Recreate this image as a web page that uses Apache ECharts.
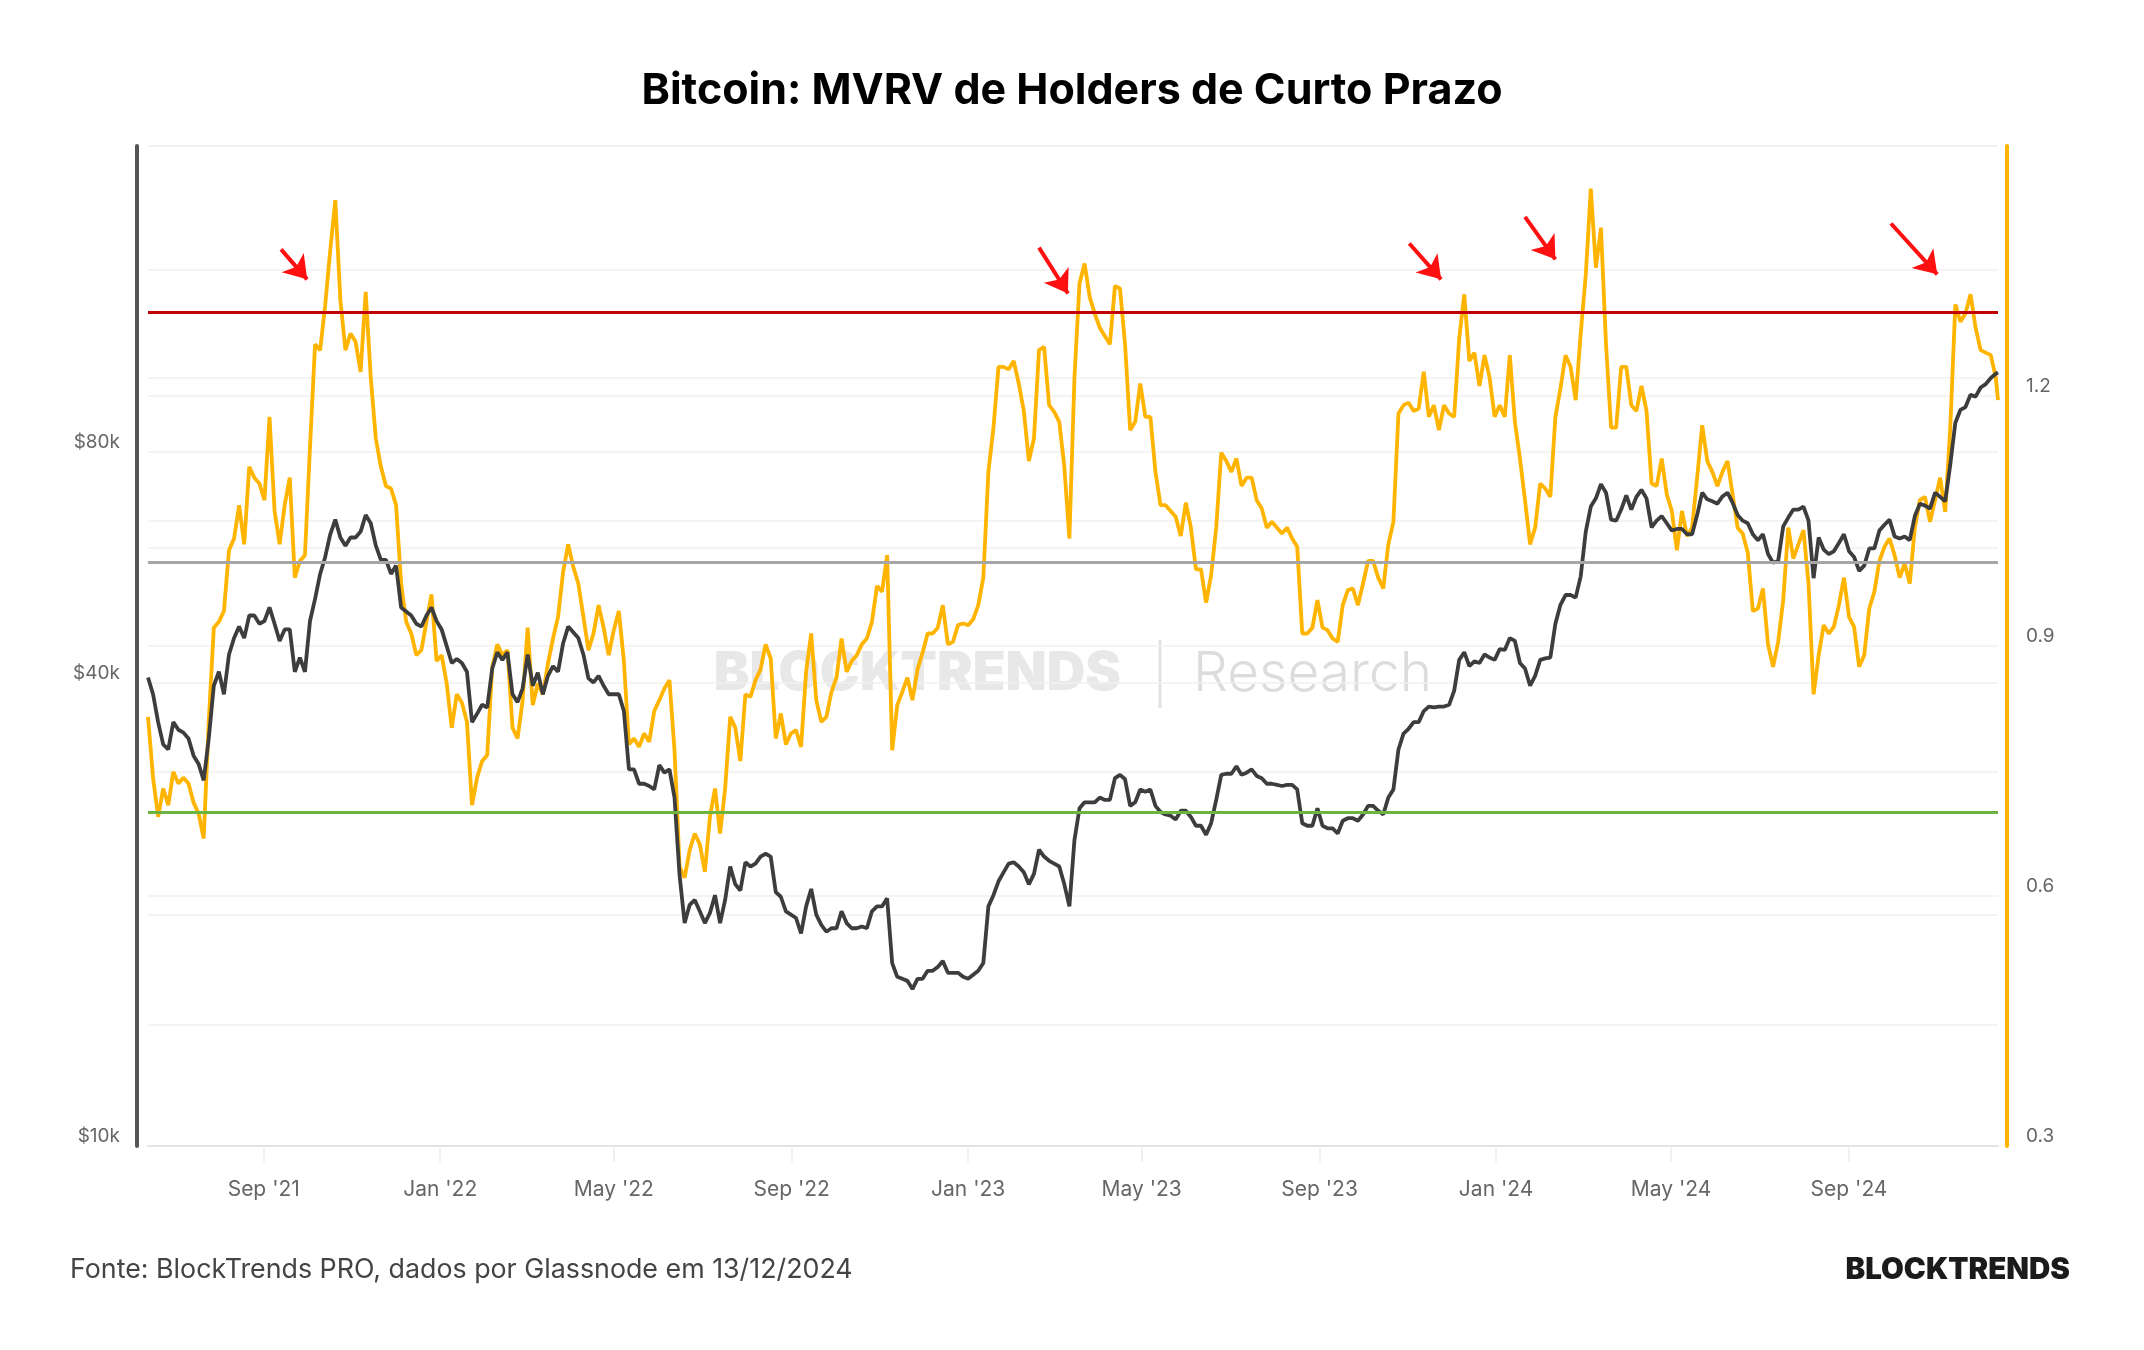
<!DOCTYPE html>
<html>
  <head>
    <meta charset="utf-8" />
    <title>Bitcoin: MVRV de Holders de Curto Prazo</title>
    <script src="https://cdn.jsdelivr.net/npm/echarts@6.0.0/dist/echarts.min.js"></script>
  </head>
  <body style="margin: 0; padding: 0; border: 0; background: #fff">
    <div id="main" style="width: 2144px; height: 1350px"></div>
    <script type="text/javascript">
      // samples every 3.5 days starting 13/06/2021, the last one is 13/12/2024
      var startDate = "2021-06-13";
      var endDate = "2024-12-13";
      var stepDays = 3.5;

      var xTicks = [
        "2021-09-01", "2022-01-01", "2022-05-01", "2022-09-01", "2023-01-01",
        "2023-05-01", "2023-09-01", "2024-01-01", "2024-05-01", "2024-09-01",
      ];

      // STH MVRV (right axis)
      var mvrv = [
        0.815, 0.742, 0.695, 0.729, 0.709, 0.749, 0.735, 0.742, 0.735, 0.712,
        0.699, 0.669, 0.809, 0.922, 0.929, 0.942, 1.015, 1.029, 1.069, 1.022,
        1.115, 1.102, 1.095, 1.075, 1.175, 1.062, 1.022, 1.069, 1.102, 0.982,
        1.002, 1.009, 1.139, 1.262, 1.255, 1.309, 1.375, 1.435, 1.315, 1.255,
        1.275, 1.265, 1.229, 1.325, 1.222, 1.149, 1.115, 1.092, 1.089, 1.069,
        0.975, 0.929, 0.915, 0.889, 0.895, 0.929, 0.962, 0.882, 0.889, 0.855,
        0.802, 0.842, 0.832, 0.809, 0.709, 0.742, 0.762, 0.769, 0.875, 0.902,
        0.889, 0.895, 0.802, 0.789, 0.835, 0.922, 0.829, 0.855, 0.842, 0.879,
        0.909, 0.935, 0.989, 1.022, 0.995, 0.975, 0.935, 0.895, 0.915, 0.949,
        0.922, 0.889, 0.919, 0.942, 0.882, 0.782, 0.789, 0.779, 0.795, 0.785,
        0.822, 0.835, 0.849, 0.859, 0.775, 0.635, 0.622, 0.655, 0.675, 0.662,
        0.629, 0.695, 0.729, 0.675, 0.729, 0.815, 0.802, 0.762, 0.842, 0.839,
        0.859, 0.872, 0.902, 0.885, 0.789, 0.819, 0.782, 0.795, 0.799, 0.779,
        0.869, 0.915, 0.835, 0.809, 0.815, 0.845, 0.862, 0.909, 0.869, 0.882,
        0.889, 0.902, 0.909, 0.929, 0.972, 0.965, 1.009, 0.775, 0.829, 0.845,
        0.862, 0.835, 0.872, 0.892, 0.915, 0.915, 0.922, 0.949, 0.902, 0.905,
        0.925, 0.927, 0.925, 0.932, 0.949, 0.982, 1.109, 1.162, 1.235, 1.235,
        1.232, 1.242, 1.215, 1.182, 1.122, 1.149, 1.255, 1.259, 1.189, 1.181,
        1.169, 1.115, 1.029, 1.222, 1.335, 1.359, 1.319, 1.299, 1.282, 1.272,
        1.262, 1.332, 1.329, 1.262, 1.159, 1.169, 1.215, 1.175, 1.175, 1.109,
        1.069, 1.069, 1.062, 1.055, 1.032, 1.072, 1.042, 0.992, 0.992, 0.952,
        0.985, 1.042, 1.132, 1.122, 1.109, 1.125, 1.092, 1.102, 1.102, 1.075,
        1.065, 1.042, 1.049, 1.042, 1.035, 1.042, 1.029, 1.019, 0.915, 0.915,
        0.922, 0.955, 0.922, 0.919, 0.909, 0.905, 0.949, 0.967, 0.969, 0.949,
        0.975, 1.002, 1.002, 0.982, 0.969, 1.022, 1.049, 1.179, 1.189, 1.192,
        1.182, 1.185, 1.229, 1.175, 1.189, 1.159, 1.189, 1.179, 1.175, 1.269,
        1.322, 1.242, 1.252, 1.212, 1.249, 1.222, 1.175, 1.189, 1.175, 1.249,
        1.169, 1.125, 1.075, 1.022, 1.042, 1.095, 1.089, 1.079, 1.175, 1.209,
        1.249, 1.235, 1.195, 1.275, 1.345, 1.449, 1.354, 1.402, 1.262, 1.162,
        1.162, 1.235, 1.235, 1.189, 1.182, 1.212, 1.182, 1.095, 1.092, 1.125,
        1.082, 1.062, 1.015, 1.062, 1.032, 1.042, 1.102, 1.165, 1.122, 1.109,
        1.092, 1.109, 1.122, 1.082, 1.042, 1.035, 1.012, 0.942, 0.945, 0.969,
        0.902, 0.875, 0.905, 0.955, 1.042, 1.005, 1.022, 1.039, 0.975, 0.842,
        0.889, 0.925, 0.915, 0.923, 0.949, 0.982, 0.935, 0.923, 0.875, 0.889,
        0.945, 0.965, 1.002, 1.019, 1.029, 1.009, 0.982, 0.999, 0.975, 1.042,
        1.075, 1.079, 1.049, 1.075, 1.102, 1.061, 1.162, 1.31, 1.289, 1.299,
        1.322, 1.282, 1.255, 1.252, 1.249, 1.222, 1.195,
      ];

      // BTC price in USD (left log axis)
      var price = [
        40700, 38700, 35600, 33300, 32800, 35600, 34800, 34500, 33900, 32200,
        31400, 29900, 33900, 39700, 41400, 38700, 43600, 45800, 47400, 45800,
        49000, 49000, 47800, 48200, 50200, 47800, 45400, 47000, 47000, 41400,
        43200, 41400, 48200, 51500, 55500, 58400, 62500, 65300, 61900, 60400,
        61900, 61900, 63000, 66200, 64600, 60400, 57900, 57900, 55500, 56900,
        50200, 49600, 49000, 47800, 47400, 49000, 50200, 48200, 47000, 44700,
        42500, 43000, 42500, 41400, 35600, 36500, 37500, 37200, 41800, 43900,
        42900, 43900, 38700, 37800, 39400, 43600, 39700, 41300, 38700, 40900,
        42100, 41400, 45100, 47400, 46600, 45800, 43600, 40600, 40100, 40900,
        39700, 38700, 38700, 38700, 36800, 30900, 30900, 29600, 29600, 29400,
        29100, 31300, 30600, 30900, 28400, 22500, 19500, 20600, 20900, 20200,
        19500, 20100, 21200, 19500, 20900, 23100, 21900, 21500, 23400, 23100,
        23300, 23800, 24000, 23800, 21400, 21100, 20200, 20000, 19800, 18900,
        20500, 21600, 20000, 19400, 19000, 19200, 19200, 20200, 19500, 19200,
        19200, 19300, 19200, 20200, 20500, 20500, 21000, 17300, 16600, 16500,
        16400, 16000, 16500, 16500, 16900, 16900, 17100, 17400, 16800, 16800,
        16800, 16600, 16500, 16700, 16900, 17300, 20500, 21200, 22100, 22700,
        23300, 23400, 23100, 22700, 21900, 22600, 24300, 23800, 23500, 23300,
        23100, 21900, 20500, 25000, 27500, 28000, 28000, 28000, 28400, 28200,
        28200, 30100, 30400, 30000, 27700, 28000, 29100, 28900, 29100, 27700,
        27200, 27000, 26900, 26600, 27300, 27300, 26800, 26100, 26100, 25400,
        26300, 28200, 30400, 30500, 30500, 31200, 30400, 30600, 30900, 30300,
        30100, 29600, 29600, 29500, 29400, 29500, 29500, 29100, 26300, 26100,
        26100, 27500, 26100, 25900, 25900, 25500, 26500, 26700, 26700, 26500,
        27000, 27700, 27700, 27300, 27000, 28400, 29100, 32800, 34400, 34900,
        35600, 35600, 36800, 37300, 37200, 37300, 37300, 37500, 39100, 42900,
        43900, 42100, 42700, 42500, 43600, 43200, 42900, 44300, 44200, 45800,
        45400, 42500, 41800, 39700, 40900, 42900, 43100, 43200, 47800, 50600,
        52100, 52100, 51700, 55100, 63000, 67900, 69600, 72600, 70800, 65300,
        65100, 67300, 70200, 67300, 69900, 71400, 69600, 63800, 65100, 66000,
        64600, 63200, 63500, 63500, 62500, 62500, 66200, 70800, 69400, 69000,
        68500, 70000, 70800, 68700, 66200, 65100, 64600, 62500, 61400, 62500,
        58900, 57400, 57700, 64000, 65700, 67300, 67300, 67900, 65100, 54800,
        61900, 59700, 58900, 59400, 60900, 62500, 59400, 58400, 56000, 56900,
        59900, 59900, 63200, 64300, 65300, 62100, 61700, 62100, 61400, 66000,
        68500, 68100, 67500, 70800, 69900, 69000, 77000, 87300, 90700, 91500,
        94900, 94400, 97000, 98000, 99800, 101100, 101500,
      ];

      var levels = [1.3, 1.0, 0.7];
      var levelColors = ["#c00000", "#a6a6a6", "#6db33f"];

      // red arrows: [from date, from mvrv, to date, to mvrv]
      var arrows = [
        ["2021-09-13", 1.376, "2021-10-01", 1.34],
        ["2023-02-19", 1.378, "2023-03-11", 1.323],
        ["2023-11-02", 1.383, "2023-11-24", 1.34],
        ["2024-01-21", 1.415, "2024-02-11", 1.364],
        ["2024-09-30", 1.407, "2024-11-01", 1.346],
      ];

      var priceLabels = [10000, 40000, 80000];
      var priceGrid = [10000, 14400, 20000, 30700, 40000, 60000, 65000, 80000, 100000, 138000, 200000];
      var mvrvLabels = [0.3, 0.6, 0.9, 1.2];

      var DAY = 86400000;
      var t0 = Date.parse(startDate);
      var tEnd = Date.parse(endDate);
      var dates = mvrv.map(function (v, i) {
        return Math.min(t0 + i * stepDays * DAY, tEnd);
      });
      var xTickTimes = xTicks.map(function (d) {
        return Date.parse(d);
      });

      var months = ["Jan", "Feb", "Mar", "Apr", "May", "Jun", "Jul", "Aug", "Sep", "Oct", "Nov", "Dec"];
      function monthLabel(t) {
        var d = new Date(t);
        return months[d.getUTCMonth()] + " '" + String(d.getUTCFullYear()).slice(2);
      }

      var markData = levels.map(function (v, i) {
        return { yAxis: v, lineStyle: { color: levelColors[i], width: 3, type: "solid" } };
      });
      arrows.forEach(function (a) {
        markData.push([
          { coord: [Date.parse(a[0]), a[1]], symbol: "none", lineStyle: { color: "#ff1010", width: 4, type: "solid" } },
          { coord: [Date.parse(a[2]), a[3]], symbol: "arrow", symbolSize: 22 },
        ]);
      });

      var labelFont = { color: "#666", fontSize: 19, fontFamily: "Inter" };

      var myChart = echarts.init(document.getElementById("main"));
      myChart.setOption({
        animation: false,
        backgroundColor: "#fff",
        title: {
          text: "Bitcoin: MVRV de Holders de Curto Prazo",
          left: "center",
          top: 63,
          textStyle: { fontFamily: "Inter", fontWeight: "bold", fontSize: 43, lineHeight: 46, color: "#000" },
        },
        grid: { left: 148, right: 146, top: 146, bottom: 204, containLabel: false, outerBoundsMode: "none" },
        // dates as timestamps on a value axis, so the month ticks can be placed exactly
        xAxis: {
          type: "value",
          min: t0,
          max: tEnd,
          axisLine: { show: true, onZero: false, lineStyle: { color: "#e3e3e3", width: 2 } },
          axisTick: { show: true, customValues: xTickTimes, length: 16, lineStyle: { color: "#ececec", width: 1.5 } },
          axisLabel: Object.assign({}, labelFont, { customValues: xTickTimes, formatter: monthLabel, margin: 33, fontSize: 21 }),
          splitLine: { show: false },
        },
        yAxis: [
          {
            type: "log",
            logBase: 10,
            min: 10000,
            max: 200000,
            position: "left",
            offset: 11,
            axisLine: { show: true, lineStyle: { color: "#555", width: 4 } },
            axisTick: { show: false, customValues: priceGrid },
            axisLabel: Object.assign(
              {
                customValues: priceLabels,
                margin: 17,
                verticalAlign: "bottom",
                formatter: function (v) {
                  return "$" + Math.round(v / 1000) + "k";
                },
              },
              labelFont
            ),
            splitLine: { show: true, lineStyle: { color: "#f0f0f0", width: 1.5 } },
          },
          {
            type: "value",
            min: 0.3,
            max: 1.5,
            interval: 0.3,
            position: "right",
            offset: 9,
            axisLine: { show: true, lineStyle: { color: "#ffb400", width: 4 } },
            axisTick: { show: false },
            axisLabel: Object.assign(
              {
                customValues: mvrvLabels,
                margin: 19,
                verticalAlign: "bottom",
                formatter: function (v) {
                  return v.toFixed(1);
                },
              },
              labelFont
            ),
            splitLine: { show: true, lineStyle: { color: "#f0f0f0", width: 1.5 } },
          },
        ],
        series: [
          {
            name: "MVRV",
            type: "line",
            yAxisIndex: 1,
            symbol: "none",
            z: 2,
            lineStyle: { color: "#ffb400", width: 3.8 },
            data: dates.map(function (t, i) {
              return [t, mvrv[i]];
            }),
            markLine: {
              silent: true,
              symbol: ["none", "none"],
              label: { show: false },
              data: markData,
            },
          },
          {
            name: "Preço",
            type: "line",
            yAxisIndex: 0,
            symbol: "none",
            z: 3,
            lineStyle: { color: "#3d3d3d", width: 3.8 },
            data: dates.map(function (t, i) {
              return [t, price[i]];
            }),
          },
        ],
        graphic: [
          {
            type: "text",
            z: 0,
            x: 1121,
            y: 674,
            style: { text: "BLOCKTRENDS", fontFamily: "Inter", fontWeight: 900, fontSize: 53.5, fill: "#e8e8e8", align: "right", verticalAlign: "middle" },
          },
          {
            type: "line",
            z: 0,
            shape: { x1: 1160, y1: 640, x2: 1160, y2: 708 },
            style: { stroke: "#e2e2e2", lineWidth: 3 },
          },
          {
            type: "text",
            z: 0,
            x: 1193,
            y: 674,
            style: { text: "Research", fontFamily: "Inter", fontWeight: 300, fontSize: 55, fill: "#dcdcdc", align: "left", verticalAlign: "middle" },
          },
          {
            type: "text",
            x: 70,
            y: 1270,
            style: { text: "Fonte: BlockTrends PRO, dados por Glassnode em 13/12/2024", fontFamily: "Inter", fontSize: 26.8, fill: "#444", align: "left", verticalAlign: "middle" },
          },
          {
            type: "text",
            x: 2070,
            y: 1270,
            style: { text: "BLOCKTRENDS", fontFamily: "Inter", fontWeight: 900, fontSize: 29.5, fill: "#1b1b1b", align: "right", verticalAlign: "middle" },
          },
        ],
      });
    </script>
  </body>
</html>
